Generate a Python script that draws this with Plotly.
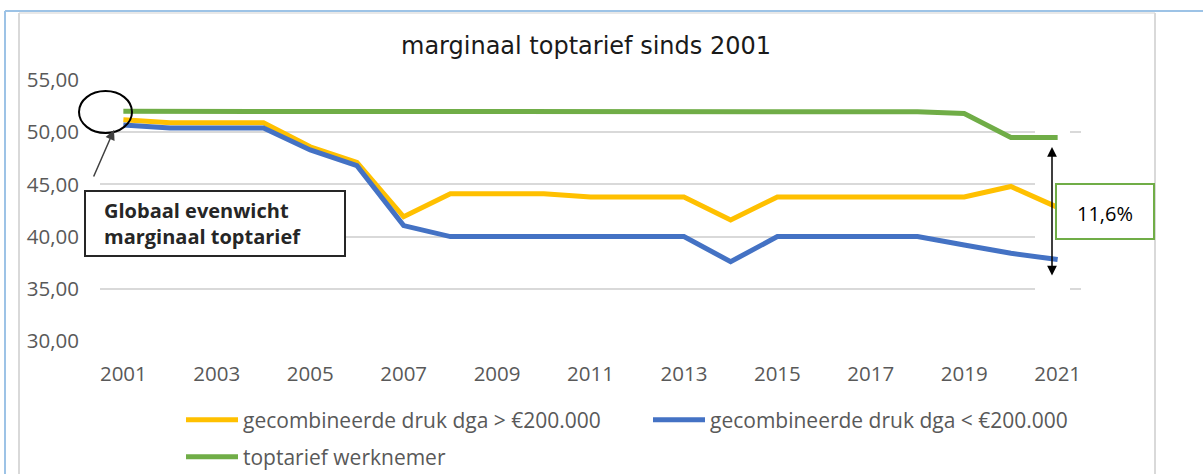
import plotly.graph_objects as go

years = list(range(2001, 2022))
dga_hoog = [51.2, 50.9, 50.9, 50.9, 48.6, 47.1, 41.9, 44.1, 44.1, 44.1, 43.8,
            43.8, 43.8, 41.6, 43.8, 43.8, 43.8, 43.8, 43.8, 44.8, 42.8]
dga_laag = [50.7, 50.4, 50.4, 50.4, 48.3, 46.8, 41.05, 40.0, 40.0, 40.0, 40.0,
            40.0, 40.0, 37.6, 40.0, 40.0, 40.0, 40.0, 39.2, 38.4, 37.8]
werknemer = [52.0, 52.0, 52.0, 52.0, 52.0, 52.0, 52.0, 52.0, 52.0, 52.0, 52.0,
             52.0, 52.0, 52.0, 52.0, 52.0, 52.0, 51.95, 51.8, 49.5, 49.5]
series_names = ["gecombineerde druk dga > €200.000",
                "gecombineerde druk dga < €200.000",
                "toptarief werknemer"]
colors = ["#FFC000", "#4472C4", "#70AD47"]
title_text = "marginaal toptarief sinds 2001"
note_text = "<b>Globaal evenwicht</b><br><b>marginaal toptarief</b>"
gap_text = "11,6%"

W, H = 1203, 474
L, R, T, B = 100, 1203 - 1081, 80, 474 - 341
pw, ph = W - L - R, H - T - B
x_range = [2000.5, 2021.5]
y_range = [30, 55]

def px(x):
    return (x - L) / pw

def py(y):
    return (H - B - y) / ph

def dx(x):
    return x_range[0] + px(x) * (x_range[1] - x_range[0])

def dy(y):
    return y_range[0] + py(y) * (y_range[1] - y_range[0])

fig = go.Figure()
fig.add_trace(go.Scatter(x=years, y=dga_hoog, name=series_names[0], mode="lines",
                         line=dict(color=colors[0], width=5), legend="legend"))
fig.add_trace(go.Scatter(x=years, y=dga_laag, name=series_names[1], mode="lines",
                         line=dict(color=colors[1], width=5), legend="legend"))
fig.add_trace(go.Scatter(x=years, y=werknemer, name=series_names[2], mode="lines",
                         line=dict(color=colors[2], width=5), legend="legend2"))

tick_font = dict(family="Open Sans, sans-serif", size=20.5, color="#595959")
legend_font = dict(family="Open Sans, sans-serif", size=21, color="#595959")

shapes = [
    # outer frame lines
    dict(type="line", xref="paper", yref="paper", x0=px(5), x1=px(1203), y0=py(11), y1=py(11),
         line=dict(color="#9DC3E6", width=2)),
    dict(type="line", xref="paper", yref="paper", x0=px(5), x1=px(5), y0=py(11), y1=py(474),
         line=dict(color="#9DC3E6", width=2)),
    dict(type="line", xref="paper", yref="paper", x0=px(19), x1=px(1155), y0=py(13), y1=py(13),
         line=dict(color="#E0E0E0", width=1.5)),
    dict(type="line", xref="paper", yref="paper", x0=px(19), x1=px(19), y0=py(13), y1=py(474),
         line=dict(color="#D9D9D9", width=2)),
    dict(type="line", xref="paper", yref="paper", x0=px(1155), x1=px(1155), y0=py(13), y1=py(474),
         line=dict(color="#D9D9D9", width=2)),
    # white background of the arrow text frame (interrupts the gridlines)
    dict(type="rect", xref="x", yref="y", x0=dx(1035), x1=dx(1070),
         y0=dy(125), y1=dy(296), line=dict(width=0), fillcolor="white", layer="between"),
    # ellipse
    dict(type="circle", xref="paper", yref="paper", x0=px(79), x1=px(132), y0=py(91), y1=py(133),
         line=dict(color="black", width=2)),
    # note box
    dict(type="rect", xref="paper", yref="paper", x0=px(85), x1=px(345), y0=py(191), y1=py(256),
         line=dict(color="#262626", width=2), fillcolor="white"),
    # gap box
    dict(type="rect", xref="paper", yref="paper", x0=px(1056), x1=px(1154), y0=py(184), y1=py(239),
         line=dict(color="#70AD47", width=2), fillcolor="white"),
]

annotations = [
    dict(text=title_text, xref="paper", yref="paper", x=px(586), y=py(46), showarrow=False,
         xanchor="center", yanchor="middle",
         font=dict(family="DejaVu Sans, Verdana, sans-serif", size=24, color="#1a1a1a")),
    dict(text=note_text, xref="paper", yref="paper", x=px(102), y=py(223), showarrow=False,
         xanchor="left", yanchor="middle", align="left",
         font=dict(family="Open Sans, sans-serif", size=20, color="#262626")),
    dict(text=gap_text, xref="paper", yref="paper", x=px(1105), y=py(213), showarrow=False,
         xanchor="center", yanchor="middle",
         font=dict(family="Open Sans, sans-serif", size=20, color="black")),
    # arrow to ellipse
    dict(text="", xref="paper", yref="paper", x=px(114), y=py(130), ax=-21, ay=48,
         showarrow=True, arrowhead=2, arrowsize=1.3,
         arrowwidth=1.5, arrowcolor="#404040", standoff=0),
    # double arrow
    dict(text="", xref="paper", yref="paper", x=px(1052), y=py(147), showarrow=True,
         ax=0, ay=130, arrowhead=2, startarrowhead=2, arrowside="end+start",
         arrowsize=1.3, startarrowsize=1.3, arrowwidth=1.5, arrowcolor="black", standoff=0,
         startstandoff=0),
]

fig.update_layout(
    width=W, height=H,
    margin=dict(l=L, r=R, t=T, b=B),
    paper_bgcolor="white", plot_bgcolor="white",
    separators=",.",
    showlegend=True,
    shapes=shapes,
    annotations=annotations,
    xaxis=dict(range=x_range, tick0=2001, dtick=2, showgrid=False, zeroline=False,
               showline=False, ticks="", ticklabelstandoff=18, tickfont=tick_font,
               fixedrange=True),
    yaxis=dict(range=y_range, dtick=5, tickformat=".2f", showgrid=True, gridcolor="#D9D9D9",
               gridwidth=1.5, zeroline=False, showline=False, ticks="", ticklabelstandoff=20,
               tickfont=tick_font, fixedrange=True),
    legend=dict(orientation="h", xref="container", yref="container", x=181 / W, y=1 - 420 / H,
                xanchor="left", yanchor="middle", entrywidth=400, itemwidth=52,
                font=legend_font, bgcolor="rgba(0,0,0,0)", traceorder="normal"),
    legend2=dict(orientation="h", xref="container", yref="container", x=181 / W, y=1 - 457 / H,
                 xanchor="left", yanchor="middle", itemwidth=52,
                 font=legend_font, bgcolor="rgba(0,0,0,0)"),
)

fig.write_html("out.html", config={"displayModeBar": False},
               post_script="document.body.style.margin='0';document.body.style.overflow='hidden';")
